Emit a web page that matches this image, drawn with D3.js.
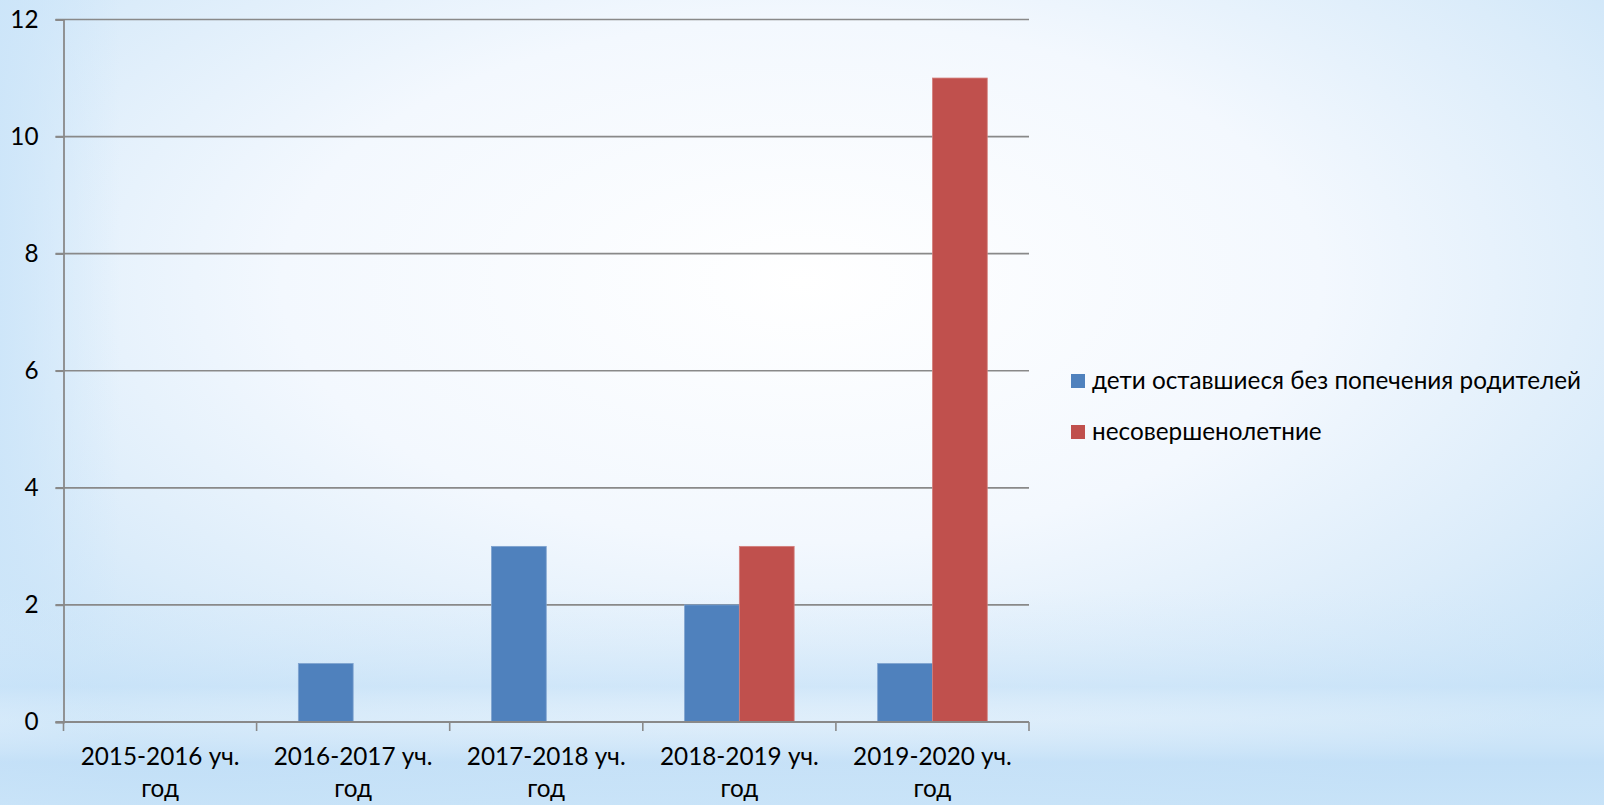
<!DOCTYPE html>
<html>
<head>
<meta charset="utf-8">
<script src="https://cdn.jsdelivr.net/npm/d3@7"></script>
<style>
  html, body { margin: 0; padding: 0; overflow: hidden; }
  svg { display: block; }
</style>
</head>
<body>
<div id="chart"></div>
<script>
const width = 1604, height = 805;
const margin = { top: 19.5, right: 575, bottom: 83, left: 63.5 };
const innerWidth = width - margin.left - margin.right;
const innerHeight = height - margin.top - margin.bottom;

const categories = ['2015-2016 уч. год', '2016-2017 уч. год', '2017-2018 уч. год', '2018-2019 уч. год', '2019-2020 уч. год'];
const seriesNames = ['дети оставшиеся без попечения родителей', 'несовершенолетние'];
const orphans = [0, 1, 3, 2, 1];
const minors = [0, 0, 0, 3, 11];
const yTicks = [0, 2, 4, 6, 8, 10, 12];
const colors = ['#4f81bd', '#c0504d'];
const strokes = ['#7fa3cf', '#d47f7c'];

const font = 'Lato, "Open Sans", sans-serif';
const fsize = '24.3px';

const svg = d3.select('#chart').append('svg')
  .attr('width', width).attr('height', height);

/* Background */
const defs = svg.append('defs');
const rg = defs.append('radialGradient').attr('id', 'bg')
  .attr('cx', '50%').attr('cy', '35%').attr('r', '72%');
rg.append('stop').attr('offset', '0%').attr('stop-color', '#ffffff');
rg.append('stop').attr('offset', '45%').attr('stop-color', '#f3f8fe');
rg.append('stop').attr('offset', '75%').attr('stop-color', '#dbecfa');
rg.append('stop').attr('offset', '100%').attr('stop-color', '#c4e1f7');
svg.append('rect').attr('width', width).attr('height', height).attr('fill', 'url(#bg)');

const lside = defs.append('linearGradient').attr('id', 'lside')
  .attr('x1', 0).attr('y1', 0).attr('x2', 1).attr('y2', 0);
lside.append('stop').attr('offset', 0).attr('stop-color', '#cce5f9').attr('stop-opacity', 0.9);
lside.append('stop').attr('offset', 1).attr('stop-color', '#cce5f9').attr('stop-opacity', 0);
svg.append('rect').attr('width', 120).attr('height', height).attr('fill', 'url(#lside)');

const lg = defs.append('linearGradient').attr('id', 'band')
  .attr('x1', 0).attr('y1', 0).attr('x2', 0).attr('y2', 1);
[[0, '#d4e9fa', 0], [0.25, '#cfe6f9', 0.3], [0.45, '#c7e2f8', 0.6],
 [0.6, '#e6f2fc', 0.35], [0.8, '#c2dff7', 0.75], [1, '#c8e3f8', 0.8]]
  .forEach(s => lg.append('stop').attr('offset', s[0]).attr('stop-color', s[1]).attr('stop-opacity', s[2]));
svg.append('rect').attr('x', 0).attr('y', 590).attr('width', width).attr('height', height - 590)
  .attr('fill', 'url(#band)');

const g = svg.append('g').attr('transform', `translate(${margin.left},${margin.top})`);

const x0 = d3.scaleBand().domain(categories).range([0, innerWidth]).padding(0);
const barW = 54.8;
const x1 = d3.scaleBand().domain(seriesNames)
  .range([(x0.bandwidth() - 2 * barW) / 2, (x0.bandwidth() + 2 * barW) / 2]).padding(0);
const y = d3.scaleLinear().domain([0, 12]).range([innerHeight, 0]);

/* Grid */
g.selectAll('.grid').data(yTicks.filter(d => d > 0)).join('line')
  .attr('x1', -8).attr('x2', innerWidth)
  .attr('y1', d => y(d)).attr('y2', d => y(d))
  .attr('stroke', '#898989').attr('stroke-width', 1.6);

/* Bars */
const rows = categories.map((c, i) => ({ cat: c, vals: [orphans[i], minors[i]] }));
const groups = g.selectAll('.cat').data(rows).join('g')
  .attr('transform', d => `translate(${x0(d.cat)},0)`);
groups.selectAll('rect')
  .data(d => d.vals.map((v, k) => ({ k, v })).filter(d => d.v > 0))
  .join('rect')
  .attr('x', d => x1(seriesNames[d.k]))
  .attr('y', d => y(d.v))
  .attr('width', x1.bandwidth())
  .attr('height', d => y(0) - y(d.v))
  .attr('fill', d => colors[d.k])
  .attr('stroke', d => strokes[d.k]).attr('stroke-width', 0.8);

/* Left axis */
g.append('g')
  .call(d3.axisLeft(y).tickValues(yTicks).tickSize(8).tickPadding(17))
  .call(ax => {
    ax.select('.domain').attr('stroke', '#898989').attr('stroke-width', 1.8);
    ax.selectAll('.tick line').attr('stroke', '#898989').attr('stroke-width', 1.6);
  })
  .selectAll('text')
  .style('font-family', font).style('font-size', fsize).style('fill', '#000');

/* Bottom axis */
const xTickPos = d3.range(categories.length + 1).map(i => i * x0.step());
const bottom = g.append('g').attr('transform', `translate(0,${innerHeight})`);
bottom.append('line').attr('x1', -8).attr('x2', innerWidth)
  .attr('stroke', '#898989').attr('stroke-width', 1.8);
bottom.selectAll('.xt').data(xTickPos).join('line')
  .attr('x1', d => d).attr('x2', d => d).attr('y1', 0).attr('y2', 9)
  .attr('stroke', '#898989').attr('stroke-width', 1.6);
bottom.selectAll('.xl').data(categories).join('text')
  .attr('x', d => x0(d) + x0.bandwidth() / 2)
  .attr('y', 43)
  .attr('text-anchor', 'middle')
  .style('font-family', font).style('font-size', fsize).style('fill', '#000')
  .each(function (d) {
    const parts = d.split(' ');
    const t = d3.select(this);
    t.append('tspan').attr('x', x0(d) + x0.bandwidth() / 2).text(parts.slice(0, 2).join(' '));
    t.append('tspan').attr('x', x0(d) + x0.bandwidth() / 2).attr('dy', 32).text(parts.slice(2).join(' '));
  });

/* Legend */
const leg = svg.append('g').attr('transform', 'translate(1071,374)');
seriesNames.forEach((n, i) => {
  const r = leg.append('g').attr('transform', `translate(0,${i * 51})`);
  r.append('rect').attr('width', 14).attr('height', 14).attr('fill', colors[i]);
  r.append('text').attr('x', 21).attr('y', 14.5)
    .style('font-family', font).style('font-size', fsize).style('fill', '#000')
    .text(n);
});
</script>
</body>
</html>
